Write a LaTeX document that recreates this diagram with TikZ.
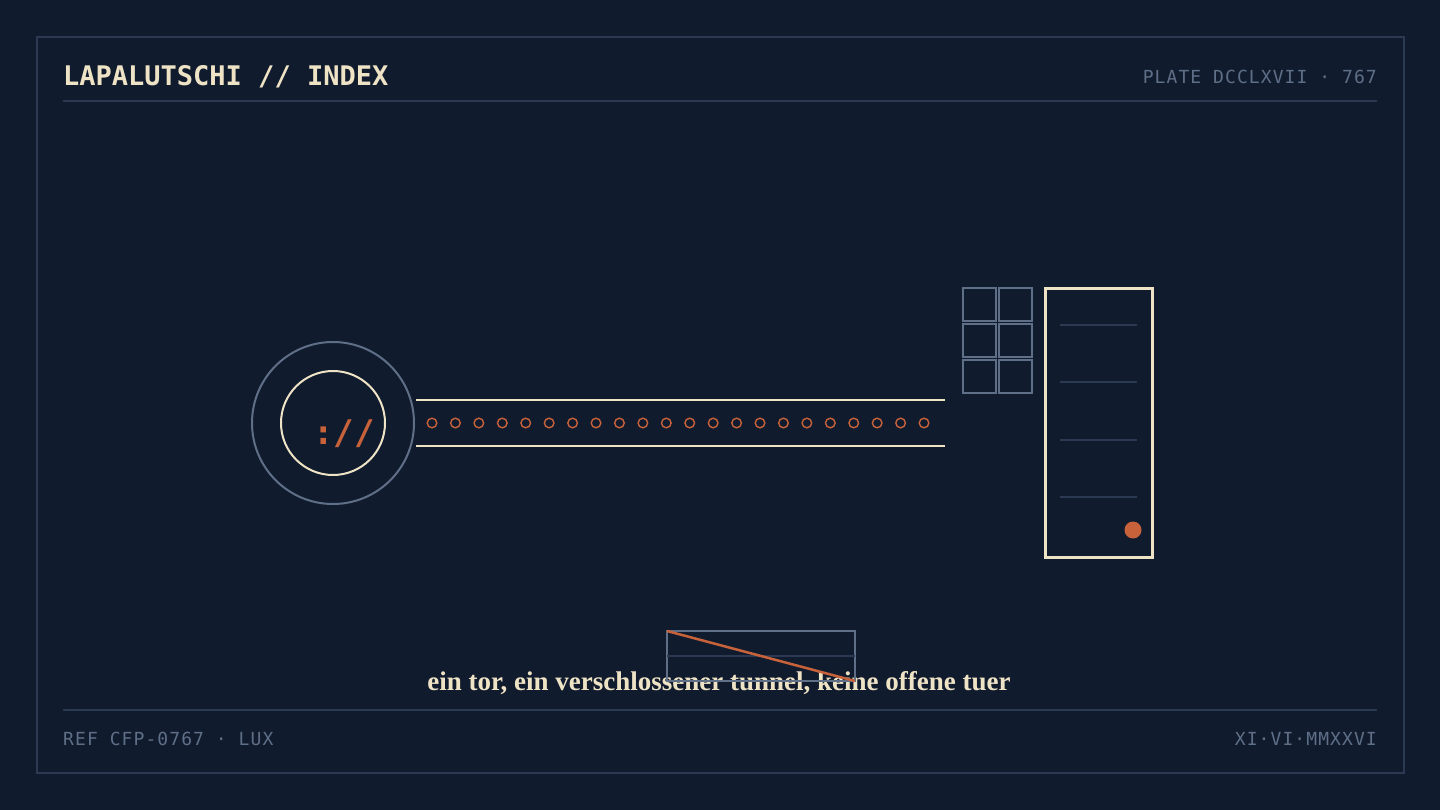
\documentclass[tikz,border=0pt]{standalone}
\usepackage{fontspec}
\usepackage{tikz}
\setmainfont{Liberation Serif}
\setmonofont{DejaVu Sans Mono}
\definecolor{navy}{HTML}{101B2E}
\definecolor{cream}{HTML}{EFE3C6}
\definecolor{rust}{HTML}{C8623A}
\definecolor{slate}{HTML}{5F6F87}
\definecolor{dim}{HTML}{2B3A52}

\begin{document}
\begin{tikzpicture}[x=1pt, y=-1pt, inner sep=0pt,
    rule/.style={dim, line width=1.2pt},
    meta/.style={slate, font=\ttfamily\fontsize{18}{20}\selectfont\addfontfeature{LetterSpace=6}},
    cell/.style={slate, line width=1.5pt}]
            \fill[navy] (0,0) rectangle (1440,810);
            \useasboundingbox (0,0) rectangle (1440,810);

            \coordinate (hub) at (333, 423);
            \coordinate (door1) at (1045, 289);
            \coordinate (door2) at (1152, 557);
            \coordinate (bar1) at (667, 631);
            \coordinate (bar2) at (855, 681);

            % frame and rules
            \draw[dim, line width=1.2pt] (37,37) rectangle (1404,773);
            \draw[rule] (63,101) -- (1377,101);
            \draw[rule] (63,710) -- (1377,710);

            \node (title) at (63,86) [anchor=base west, cream, font=\ttfamily\bfseries\fontsize{27}{30}\selectfont] {LAPALUTSCHI // INDEX};
            \node (plate) at (1377,84) [anchor=base east, meta] {PLATE DCCLXVII · 767};
            \node (ref) at (63,745) [anchor=base west, meta] {REF CFP-0767 · LUX};
            \node (date) at (1377,745) [anchor=base east, meta] {XI·VI·MMXXVI};

            % the gate
            \draw[slate, line width=2pt] (hub) circle (81pt);
            \draw[cream, line width=2pt] (hub) circle (52pt);
            \node (scheme) at (344,444) [anchor=base, rust, font=\ttfamily\bfseries\fontsize{34}{36}\selectfont] {://};

            % the tunnel
            \draw[cream, line width=2.5pt] (416,400) -- (945,400);
            \draw[cream, line width=2.5pt] (416,446) -- (945,446);
            \foreach \i in {0,...,21}
                \draw[rust, line width=1.4pt] (432+23.43*\i, 423) circle (4.8pt);

            % panel of cells
            \foreach \c in {0,1}
                \foreach \r in {0,1,2}
                    \draw[cell] (963+36*\c, 288+36*\r) rectangle +(33,33);

            % the door
            \draw[cream, line width=3pt] (door1) rectangle (door2);
            \foreach \y in {325,382,440,497}
                \draw[dim, line width=1.5pt] (1060,\y) -- (1137,\y);
            \fill[rust] (1133,530) circle (8.5pt);

            \node (caption) at (719,690) [anchor=base, cream, font=\bfseries\fontsize{27}{30}\selectfont] {ein tor, ein verschlossener tunnel, keine offene tuer};

            % the crossed bar
            \draw[slate, line width=1.5pt] (bar1) rectangle (bar2);
            \draw[dim, line width=1.5pt] (667,656) -- (855,656);
            \draw[rust, line width=2.5pt] (bar1) -- (bar2);

            \end{tikzpicture}
\end{document}
